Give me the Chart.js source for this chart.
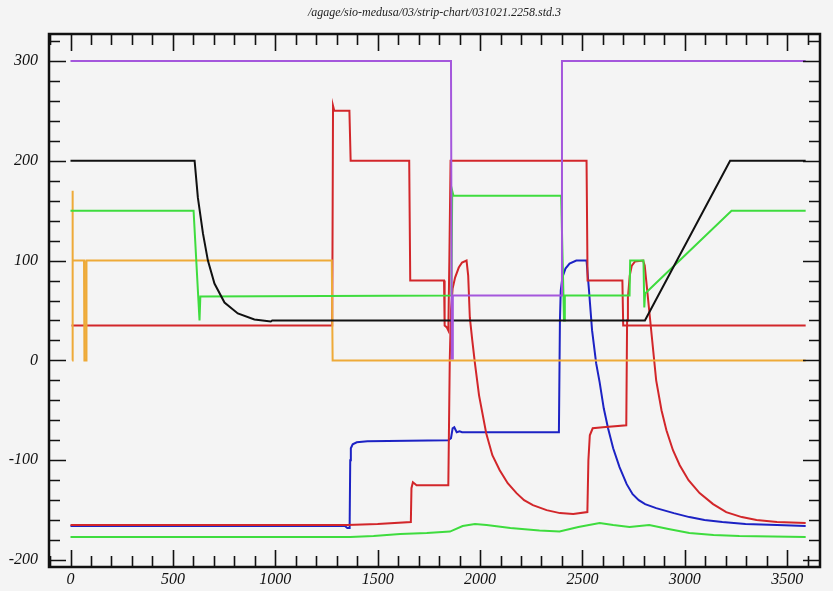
<!DOCTYPE html>
<html>
<head>
<meta charset="utf-8">
<script src="https://cdn.jsdelivr.net/npm/chart.js@4/dist/chart.umd.min.js"></script>
<style>
  html, body { margin: 0; padding: 0; background: #f4f4f4; }
  #wrap { width: 833px; height: 591px; }
</style>
</head>
<body>
<div id="wrap"><canvas id="stripChart" width="833" height="591"></canvas></div>
<script>
// strip-chart title
const chartTitle = '/agage/sio-medusa/03/strip-chart/031021.2258.std.3';

// axis ranges / tick steps
const xRange = [-105, 3660];
const yRange = [-207, 327];
const xStep = 100, xLabelEvery = 500;
const yStep = 20, yLabelEvery = 100;

// traces: [seconds, value]
const purpleTrace = [
  [0, 300], [1858, 300], [1862, 2], [1865, 2], [1867, 65], [2396, 65], [2400, 300], [3590, 300]
];

const blackTrace = [
  [0, 200], [606, 200], [622, 163], [647, 127], [671, 100], [703, 77], [752, 58],
  [817, 47], [898, 41], [978, 39], [985, 40], [2805, 40], [3221, 200], [3590, 200]
];

const greenUpperTrace = [
  [0, 150], [601, 150], [630, 40], [634, 64], [1860, 65], [1864, 170], [1870, 165],
  [2396, 165], [2410, 40], [2414, 65], [2730, 65], [2733, 100], [2798, 100],
  [2802, 53], [2806, 67], [3228, 150], [3590, 150]
];

const orangeTrace = [
  [8, 0], [10, 170], [11, 100], [66, 100], [68, 0], [76, 0], [78, 100],
  [1276, 100], [1280, 0], [3590, 0]
];

const redUpperTrace = [
  [5, 35], [1278, 35], [1282, 255], [1288, 250], [1362, 250], [1368, 200],
  [1654, 200], [1659, 80], [1824, 80], [1827, 35], [1838, 33], [1845, 30],
  [1850, 100], [1856, 200], [2520, 200], [2525, 80], [2695, 80], [2699, 35], [3590, 35]
];

const redLowerTrace = [
  [0, -165], [1350, -165], [1500, -164], [1662, -162], [1665, -128], [1672, -122],
  [1690, -125], [1845, -125], [1852, 0], [1858, 50], [1866, 72], [1878, 83],
  [1896, 93], [1912, 98], [1934, 100], [1942, 85], [1950, 43], [1962, 20],
  [1975, -3], [1995, -35], [2030, -73], [2060, -95], [2096, -110], [2135, -123],
  [2178, -133], [2215, -140], [2258, -145], [2325, -150], [2390, -153],
  [2455, -154], [2524, -152], [2529, -100], [2536, -75], [2550, -68],
  [2600, -67], [2714, -65], [2718, 40], [2722, 63], [2731, 85], [2741, 95],
  [2756, 99], [2796, 100], [2804, 95], [2826, 50], [2860, -20], [2886, -50],
  [2910, -70], [2942, -90], [2975, -105], [3018, -120], [3072, -133],
  [3138, -144], [3202, -152], [3278, -157], [3350, -160], [3450, -162], [3590, -163]
];

const blueTrace = [
  [0, -166], [1340, -166], [1352, -168], [1363, -168], [1366, -100], [1369, -88],
  [1378, -84], [1398, -82], [1450, -81], [1845, -80], [1858, -78], [1866, -68],
  [1874, -67], [1886, -72], [1900, -71], [1912, -72], [2385, -72], [2390, 40],
  [2394, 70], [2402, 83], [2417, 92], [2437, 97], [2470, 100], [2520, 100],
  [2532, 70], [2547, 30], [2567, -3], [2584, -22], [2604, -48], [2625, -68],
  [2650, -88], [2681, -107], [2716, -124], [2745, -134], [2775, -140], [2806, -144],
  [2860, -148], [2946, -153], [3022, -157], [3096, -160], [3183, -162],
  [3296, -164], [3450, -165], [3590, -166]
];

const greenLowerTrace = [
  [0, -177], [1366, -177], [1480, -176], [1610, -174], [1740, -173], [1853, -171.5],
  [1915, -166], [1975, -164], [2032, -165], [2148, -168], [2290, -170.5],
  [2388, -171.5], [2480, -167], [2584, -163], [2650, -165], [2730, -167],
  [2826, -165], [2920, -169], [3022, -173], [3140, -175], [3266, -176], [3590, -177]
];

const traceList = [
  { name: 'purple', points: purpleTrace, color: '#a457dc' },
  { name: 'black', points: blackTrace, color: '#111111' },
  { name: 'green1', points: greenUpperTrace, color: '#3edc3e' },
  { name: 'orange', points: orangeTrace, color: '#eeaa38' },
  { name: 'red1', points: redUpperTrace, color: '#d2262a' },
  { name: 'red2', points: redLowerTrace, color: '#d2262a' },
  { name: 'blue', points: blueTrace, color: '#1c22c4' },
  { name: 'green2', points: greenLowerTrace, color: '#3edc3e' }
];

// background of the whole canvas
const paperBg = {
  id: 'paperBg',
  beforeDraw(chart) {
    const ctx = chart.ctx;
    ctx.save();
    ctx.fillStyle = '#f4f4f4';
    ctx.fillRect(0, 0, chart.width, chart.height);
    ctx.restore();
  }
};

// frame with inward ticks on all four sides
const frameTicks = {
  id: 'frameTicks',
  afterDatasetsDraw(chart) {
    const { ctx, chartArea: a, scales: { x, y } } = chart;
    ctx.save();
    ctx.strokeStyle = '#111';
    ctx.lineWidth = 1.6;
    ctx.beginPath();
    x.ticks.forEach(t => {
      const px = Math.round(x.getPixelForValue(t.value)) + 0.5;
      const len = t.value % xLabelEvery === 0 ? 17 : 11;
      ctx.moveTo(px, a.bottom); ctx.lineTo(px, a.bottom - len);
      ctx.moveTo(px, a.top); ctx.lineTo(px, a.top + len);
    });
    y.ticks.forEach(t => {
      const py = Math.round(y.getPixelForValue(t.value)) + 0.5;
      const len = t.value % yLabelEvery === 0 ? 17 : 11;
      ctx.moveTo(a.left, py); ctx.lineTo(a.left + len, py);
      ctx.moveTo(a.right, py); ctx.lineTo(a.right - len, py);
    });
    ctx.stroke();
    ctx.lineWidth = 2.5;
    ctx.strokeRect(a.left, a.top, a.right - a.left, a.bottom - a.top);
    ctx.restore();
  }
};

const tickFont = { family: 'Liberation Serif', style: 'italic', size: 16 };

const ctx = document.getElementById('stripChart').getContext('2d');
const stripChart = new Chart(ctx, {
  type: 'scatter',
  data: {
    datasets: traceList.map(tr => ({
      label: tr.name,
      data: tr.points.map(([x, y]) => ({ x, y })),
      showLine: true,
      borderColor: tr.color,
      backgroundColor: tr.color,
      borderWidth: 2,
      pointRadius: 0,
      tension: 0
    }))
  },
  options: {
    responsive: false,
    animation: false,
    layout: { padding: { left: 0, right: 13, top: 0, bottom: 0 } },
    plugins: {
      legend: { display: false },
      tooltip: { enabled: false },
      title: {
        display: true,
        text: chartTitle,
        fullSize: false,
        color: '#222',
        font: { family: 'Liberation Serif', style: 'italic', size: 12, weight: 'normal', lineHeight: 1.2 },
        padding: { top: 6, bottom: 13.6 }
      }
    },
    scales: {
      x: {
        type: 'linear',
        min: xRange[0],
        max: xRange[1],
        grid: { display: false, drawTicks: false },
        border: { display: false },
        ticks: {
          stepSize: xStep,
          includeBounds: false,
          autoSkip: false,
          maxRotation: 0,
          padding: 3,
          color: '#111',
          font: tickFont,
          callback: v => (v % xLabelEvery === 0 ? String(v) : '')
        },
        afterFit(scale) { scale.height = 24; }
      },
      y: {
        type: 'linear',
        min: yRange[0],
        max: yRange[1],
        grid: { display: false, drawTicks: false },
        border: { display: false },
        ticks: {
          stepSize: yStep,
          includeBounds: false,
          autoSkip: false,
          padding: 11,
          color: '#111',
          font: tickFont,
          callback: v => (v % yLabelEvery === 0 ? String(v) : '')
        },
        afterFit(scale) { scale.width = 49; }
      }
    }
  },
  plugins: [paperBg, frameTicks]
});
</script>
</body>
</html>
